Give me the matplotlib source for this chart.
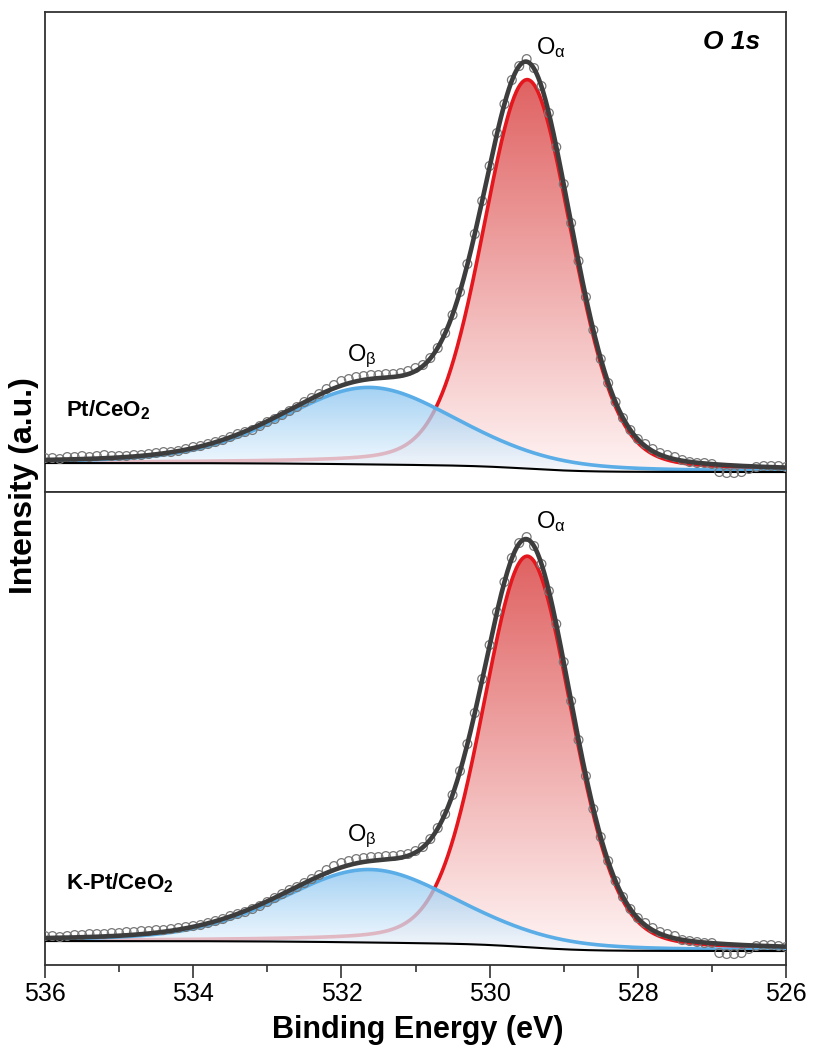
import numpy as np
import matplotlib
matplotlib.use("Agg")
import matplotlib.pyplot as plt
from matplotlib.colors import LinearSegmentedColormap
from matplotlib.ticker import MultipleLocator

plt.rcParams['font.family'] = ['Liberation Sans', 'DejaVu Sans']
plt.rcParams['mathtext.fontset'] = 'custom'
plt.rcParams['mathtext.rm'] = 'Liberation Sans'
plt.rcParams['mathtext.it'] = 'Liberation Sans:italic'
plt.rcParams['mathtext.bf'] = 'Liberation Sans:bold'

## Data ##
# binding energy of the measured points (0.1 eV step)
be_points = np.round(np.linspace(536, 526, 101), 1)

# measured intensity (a.u.), Pt/CeO2
pt_counts = [34, 34, 33, 35, 35, 36, 35, 36, 37, 36, 36, 36, 37, 37, 38, 39, 40, 40, 41, 43,
             45, 46, 48, 50, 52, 55, 58, 60, 62, 66, 70, 73, 77, 81, 85, 90, 94, 98, 103, 107,
             111, 113, 115, 116, 117, 117, 118, 118, 119, 121, 124, 127, 134, 144, 159, 177, 200, 228, 258, 291,
             326, 359, 388, 412, 426, 433, 424, 406, 379, 345, 308, 269, 231, 195, 162, 133, 109, 90, 74, 62,
             53, 48, 43, 39, 37, 35, 32, 30, 29, 29, 28, 20, 19, 19, 20, 23, 25, 26, 26, 26, 25]

# measured intensity (a.u.), K-Pt/CeO2
kpt_counts = [29, 29, 28, 29, 30, 30, 31, 31, 31, 32, 32, 33, 33, 34, 34, 35, 35, 36, 37, 38,
              39, 40, 42, 44, 46, 49, 51, 53, 56, 59, 63, 67, 71, 75, 78, 82, 86, 90, 95, 99,
              102, 104, 106, 107, 108, 108, 109, 109, 110, 111, 114, 118, 126, 137, 151, 170, 194, 221, 252, 286,
              320, 353, 383, 407, 422, 428, 419, 401, 374, 341, 303, 264, 225, 189, 156, 128, 104, 84, 68, 56,
              47, 42, 37, 33, 31, 29, 25, 24, 23, 22, 22, 12, 11, 11, 12, 16, 19, 20, 20, 19, 18]

# fitted components: centre (eV), height, FWHM (eV), lorentzian fraction
o_alpha_center = [529.49, 529.49]
o_alpha_height = [389, 391]
o_alpha_fwhm = [1.42, 1.42]
o_alpha_eta = [0.2, 0.2]

o_beta_center = [531.62, 531.62]
o_beta_height = [77, 73]
o_beta_fwhm = [2.8, 2.8]
o_beta_eta = [0.3, 0.3]

# shirley background end levels (high BE side, low BE side)
bg_high = [29, 24]
bg_low = [20, 14]

sample_names = ['Pt/CeO$_\\mathbf{2}$', 'K-Pt/CeO$_\\mathbf{2}$']
ylims = [480, 473]
## Data ##


def pseudo_voigt(x, c, h, w, eta):
    g = np.exp(-4*np.log(2)*((x-c)/w)**2)
    l = 1/(1 + 4*((x-c)/w)**2)
    return h*(eta*l + (1-eta)*g)


def shirley(x, peaks, high, low):
    # background step follows the cumulative peak area from the low BE side
    q = np.cumsum(peaks[::-1])[::-1]
    q = q - q[-1]
    return low + (high-low)*q/q[0]


def grad_fill(ax, x, lo, hi, c_top, c_bot, alpha, z):
    coll = ax.fill_between(x, lo, hi, facecolor='none', edgecolor='none')
    path = coll.get_paths()[0]
    cmap = LinearSegmentedColormap.from_list('g', [c_bot, c_top])
    grad = np.linspace(0, 1, 256).reshape(-1, 1)
    im = ax.imshow(grad, cmap=cmap, origin='lower', aspect='auto',
                   extent=[x.min(), x.max(), lo.min(), hi.max()],
                   alpha=alpha, zorder=z, interpolation='bilinear')
    im.set_clip_path(path, transform=ax.transData)


fig = plt.figure(figsize=(8.14, 10.57), dpi=100)
ax_top = fig.add_axes([0.0553, 0.5345, 0.9103, 0.4541])
ax_bot = fig.add_axes([0.0553, 0.0870, 0.9103, 0.4475])

x = np.linspace(536, 526, 1001)
for k, ax in enumerate([ax_top, ax_bot]):
    red = pseudo_voigt(x, o_alpha_center[k], o_alpha_height[k], o_alpha_fwhm[k], o_alpha_eta[k])
    blue = pseudo_voigt(x, o_beta_center[k], o_beta_height[k], o_beta_fwhm[k], o_beta_eta[k])
    bg = shirley(x, red + blue, bg_high[k], bg_low[k])

    grad_fill(ax, x, bg, bg + red, '#e06262', '#fff3f3', 1.0, 1)
    ax.plot(x, bg + red, color='#e3171d', lw=2.6, zorder=2)
    grad_fill(ax, x, bg, bg + blue, '#86c3f0', '#f4faff', 0.75, 3)
    ax.plot(x, bg + blue, color='#5aade6', lw=2.6, zorder=4)
    ax.plot(x, bg, color='black', lw=1.5, zorder=4.5)

    counts = pt_counts if k == 0 else kpt_counts
    ax.scatter(be_points, counts, s=40, facecolors='none', edgecolors='#777777',
               linewidths=0.9, zorder=5)
    ax.plot(x, bg + red + blue, color='#3d3d3d', lw=3.3, zorder=6)

    ax.set_xlim(536, 526)
    ax.set_ylim(0, ylims[k])
    ax.set_yticks([])
    for sp in ax.spines.values():
        sp.set_color('#333333')
        sp.set_linewidth(1.3)

    ax.text(535.72, 76, sample_names[k], fontsize=16,
            fontweight='bold', ha='left', va='baseline')
    ax.text(529.38, 438 if k == 0 else 437, 'O$_{\\mathrm{\\alpha}}$', fontsize=17,
            ha='left', va='baseline')
    ax.text(531.92, 131 if k == 0 else 124, 'O$_{\\mathrm{\\beta}}$', fontsize=17,
            ha='left', va='baseline')

ax_top.tick_params(axis='x', bottom=False, labelbottom=False)
ax_top.text(526.35, 443, 'O 1s', fontsize=19, fontweight='bold', fontstyle='italic',
            ha='right', va='baseline')

ax_bot.xaxis.set_major_locator(MultipleLocator(2))
ax_bot.xaxis.set_minor_locator(MultipleLocator(1))
ax_bot.tick_params(axis='x', which='major', direction='out', length=9, width=1.2,
                   color='#333333', labelsize=18, pad=3)
ax_bot.tick_params(axis='x', which='minor', direction='out', length=5, width=1.2,
                   color='#333333')

fig.text(0.5137, 1 - 1030/1057, 'Binding Energy (eV)', fontsize=22, fontweight='bold',
         ha='center', va='center')
fig.text(0.029, 1 - 486/1057, 'Intensity (a.u.)', fontsize=23, fontweight='bold',
         ha='center', va='center', rotation=90)

fig.savefig('out.png', dpi=100)
